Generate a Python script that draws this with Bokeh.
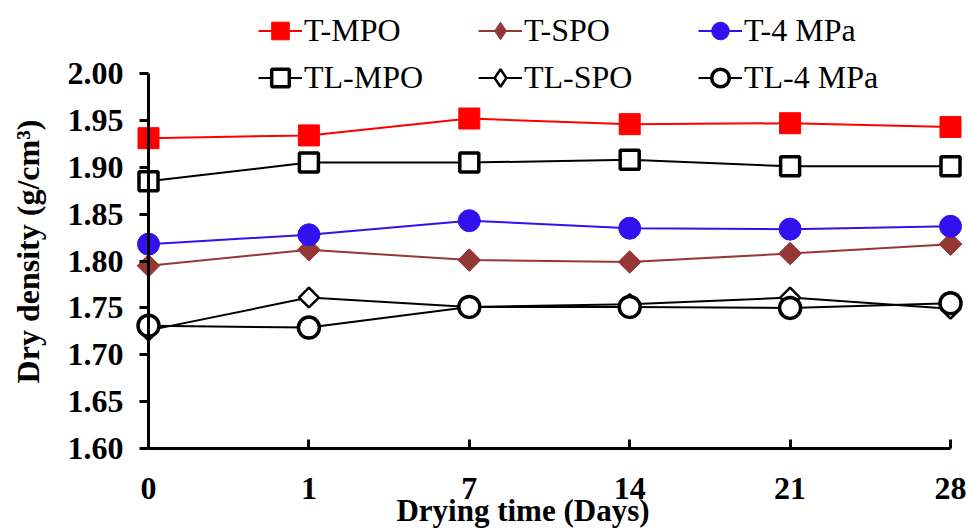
import math
from bokeh.plotting import figure
from bokeh.models import (LinearAxis, FixedTicker, PrintfTickFormatter, Range1d,
                          Legend, LegendItem, ColumnDataSource)
from bokeh.embed import file_html
from bokeh.resources import INLINE

# ---- data ----
days = ["0", "1", "7", "14", "21", "28"]
t_mpo = [1.931, 1.934, 1.952, 1.946, 1.947, 1.943]
t_spo = [1.795, 1.812, 1.801, 1.799, 1.808, 1.818]
t_4mpa = [1.818, 1.828, 1.843, 1.835, 1.834, 1.837]
tl_mpo = [1.885, 1.905, 1.905, 1.908, 1.901, 1.901]
tl_spo = [1.726, 1.761, 1.751, 1.754, 1.761, 1.749]
tl_4mpa = [1.731, 1.729, 1.751, 1.751, 1.750, 1.755]
y_ticks = [1.60, 1.65, 1.70, 1.75, 1.80, 1.85, 1.90, 1.95, 2.00]

idx = list(range(len(days)))

W, H = 968, 532
p = figure(width=W, height=H, output_backend="svg", toolbar_location=None,
           x_axis_location=None, y_axis_location=None,
           x_range=Range1d(-0.9227, 5.1122), y_range=Range1d(1.5104, 2.0779),
           min_border_left=0, min_border_right=0, min_border_top=0, min_border_bottom=0)
p.outline_line_color = None
p.xgrid.visible = False
p.ygrid.visible = False
p.background_fill_color = "white"

FONT = "Liberation Serif"

# main y axis
yax = LinearAxis(fixed_location=0, bounds=(1.60, 2.00),
                 ticker=FixedTicker(ticks=y_ticks),
                 formatter=PrintfTickFormatter(format="%.2f"))
yax.axis_line_width = 3
yax.major_tick_line_width = 3
yax.major_tick_out = 9
yax.major_tick_in = 0
yax.minor_tick_out = 0
yax.minor_tick_in = 0
yax.major_label_standoff = 16
yax.major_label_text_font = FONT
yax.major_label_text_font_style = "bold"
yax.major_label_text_font_size = "32px"
yax.major_label_text_color = "black"
p.add_layout(yax, "left")

# y title (label-only axis)
ytitle = LinearAxis(fixed_location=0, bounds=(1.60, 2.02),
                    ticker=FixedTicker(ticks=[]), axis_label="Dry density (g/cm³)")
ytitle.axis_line_color = None
ytitle.major_tick_line_color = None
ytitle.minor_tick_line_color = None
ytitle.major_tick_out = 0
ytitle.axis_label_standoff = 103
ytitle.axis_label_text_font = FONT
ytitle.axis_label_text_font_style = "bold"
ytitle.axis_label_text_font_size = "32px"
ytitle.axis_label_text_color = "black"
p.add_layout(ytitle, "left")

# main x axis
xax = LinearAxis(fixed_location=1.60, bounds=(0, 5),
                 ticker=FixedTicker(ticks=idx),
                 major_label_overrides={i: d for i, d in zip(idx, days)})
xax.axis_line_width = 3
xax.major_tick_line_width = 3
xax.major_tick_in = 9
xax.major_tick_out = 0
xax.minor_tick_out = 0
xax.minor_tick_in = 0
xax.major_label_standoff = 29
xax.major_label_text_font = FONT
xax.major_label_text_font_style = "bold"
xax.major_label_text_font_size = "32px"
xax.major_label_text_color = "black"
p.add_layout(xax, "below")

# x title (label-only axis)
xtitle = LinearAxis(fixed_location=1.60, bounds=(-0.33, 5),
                    ticker=FixedTicker(ticks=[]), axis_label="Drying time (Days)")
xtitle.axis_line_color = None
xtitle.major_tick_line_color = None
xtitle.minor_tick_line_color = None
xtitle.major_tick_out = 0
xtitle.axis_label_standoff = 44
xtitle.axis_label_text_font = FONT
xtitle.axis_label_text_font_style = "bold"
xtitle.axis_label_text_font_size = "31px"
xtitle.axis_label_text_color = "black"
p.add_layout(xtitle, "below")

series = [
    ("T-MPO", t_mpo, "#FF0000", "square", 21, "#FF0000", 1, 0, "square"),
    ("T-SPO", t_spo, "#953735", "square", 16, "#953735", 1, math.pi / 4, "diamond"),
    ("T-4 MPa", t_4mpa, "#3311EE", "circle", 22, "#3311EE", 1, 0, "circle"),
    ("TL-MPO", tl_mpo, "black", "square", 19, "white", 3.5, 0, "square"),
    ("TL-SPO", tl_spo, "black", "square", 14, "white", 2.5, math.pi / 4, "diamond"),
    ("TL-4 MPa", tl_4mpa, "black", "circle", 21, "white", 3.5, 0, "circle"),
]

items = []
for name, vals, col, marker, size, fill, lw, ang, leg_marker in series:
    src = ColumnDataSource(dict(x=idx, y=vals))
    ln = p.line("x", "y", source=src, line_color=col, line_width=2)
    sc = p.scatter("x", "y", source=src, marker=marker, size=size, angle=ang,
                   fill_color=fill, line_color=col, line_width=lw)
    if leg_marker == marker:
        rends = [ln, sc]
    else:
        # legend-only marker (no visible point in the plot)
        hidden = ColumnDataSource(dict(x=[float("nan")], y=[float("nan")]))
        lg = p.scatter("x", "y", source=hidden, marker=leg_marker, size=size,
                       fill_color=fill, line_color=col, line_width=lw)
        rends = [ln, lg]
    items.append(LegendItem(label=name, renderers=rends))

legend = Legend(items=items, orientation="horizontal", ncols=3,
                location=(258, 431), margin=0, padding=0, spacing=0,
                glyph_width=44, glyph_height=47, label_height=47, label_width=174,
                label_standoff=2, border_line_color=None, background_fill_alpha=0,
                label_text_font=FONT, label_text_font_size="32px",
                label_text_color="black")
p.add_layout(legend, "center")

open("out.html", "w").write(file_html(p, INLINE))
